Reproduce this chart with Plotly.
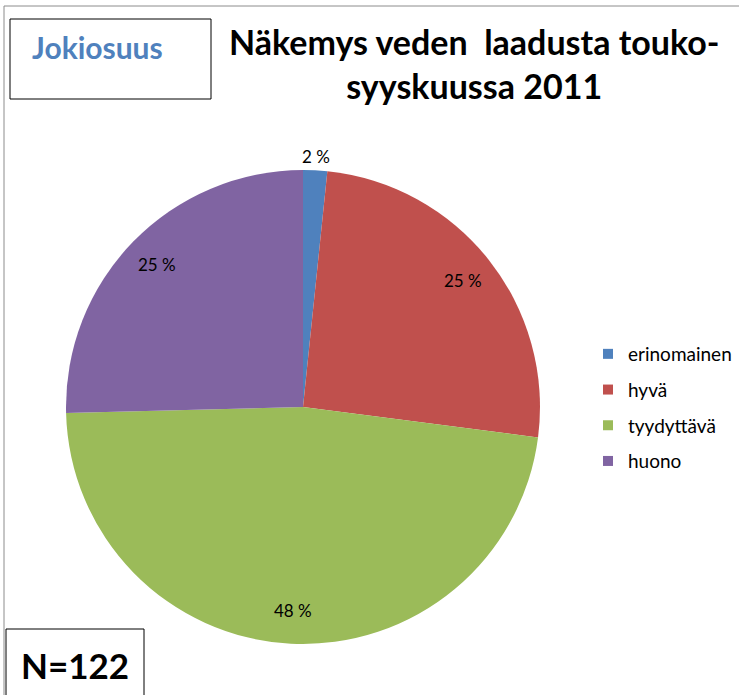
import math
import plotly.graph_objects as go

# ---- data ----
categories = ["erinomainen", "hyvä", "tyydyttävä", "huono"]
counts = [2, 31, 58, 31]
colors = ["#4F81BD", "#C0504D", "#9BBB59", "#8064A2"]
title_lines = ["Näkemys veden&nbsp; laadusta touko-", "syyskuussa 2011"]
place_label = "Jokiosuus"
n_label = "N=122"

W, H = 739, 695
FONT = "Lato"

def px(x):
    return x / W

def py(y):
    return 1 - y / H

# pie geometry (pixels)
CX, CY, R = 303, 407, 237

fig = go.Figure()
fig.add_trace(go.Pie(
    labels=categories, values=counts, sort=False, direction="clockwise",
    rotation=0, marker=dict(colors=colors, line=dict(width=0)),
    textinfo="none", hoverinfo="label+percent", showlegend=False,
    domain=dict(x=[px(CX - R), px(CX + R)], y=[py(CY + R), py(CY - R)]),
))

# legend via empty marker traces (one group each so spacing can be set)
for c, col in zip(categories, colors):
    fig.add_trace(go.Scatter(
        x=[None], y=[None], mode="markers", name=c, legendgroup=c,
        marker=dict(symbol="square", size=10, color=col),
    ))

# percent labels computed from data
total = sum(counts)
annotations = []
cum = 0
for i, v in enumerate(counts):
    mid = (cum + v / 2) / total * 2 * math.pi
    cum += v
    pct = v / total * 100
    r = 1.06 if pct < 5 else 0.86
    lx = CX + r * R * math.sin(mid)
    ly = CY - r * R * math.cos(mid)
    annotations.append(dict(
        x=px(lx), y=py(ly), xref="paper", yref="paper", showarrow=False,
        text=f"{round(pct)} %", xanchor="center", yanchor="middle",
        font=dict(family=FONT, size=17, color="#000000"),
    ))

annotations.append(dict(
    x=px(474), y=py(64), xref="paper", yref="paper", showarrow=False,
    text="<br>".join(title_lines), align="center", xanchor="center", yanchor="middle",
    font=dict(family=FONT, size=34, color="#000000", weight="bold"),
))
annotations.append(dict(
    x=px(30), y=py(47), xref="paper", yref="paper", showarrow=False,
    text=place_label, xanchor="left", yanchor="middle",
    font=dict(family=FONT, size=30, color="#4F81BD", weight="bold"),
))
annotations.append(dict(
    x=px(75), y=py(665), xref="paper", yref="paper", showarrow=False,
    text=n_label, xanchor="center", yanchor="middle",
    font=dict(family=FONT, size=35, color="#000000", weight="bold"),
))

shapes = [
    dict(type="rect", xref="paper", yref="paper", x0=px(4), x1=px(760), y0=py(6), y1=py(720),
         line=dict(color="#8C8C8C", width=1)),
    dict(type="rect", xref="paper", yref="paper", x0=px(10), x1=px(211), y0=py(19), y1=py(99),
         line=dict(color="#000000", width=1)),
    dict(type="rect", xref="paper", yref="paper", x0=px(6), x1=px(144), y0=py(629), y1=py(720),
         line=dict(color="#000000", width=1)),
]

fig.update_layout(
    width=W, height=H, margin=dict(l=0, r=0, t=0, b=0),
    paper_bgcolor="white", plot_bgcolor="white",
    xaxis=dict(visible=False), yaxis=dict(visible=False),
    annotations=annotations, shapes=shapes,
    legend=dict(x=px(588), y=py(335), xanchor="left", yanchor="top",
                font=dict(family=FONT, size=19, color="#000000"),
                tracegroupgap=8, bgcolor="rgba(0,0,0,0)"),
)

fig.write_html("out.html", config={"displayModeBar": False},
               post_script="document.body.style.margin='0';")
